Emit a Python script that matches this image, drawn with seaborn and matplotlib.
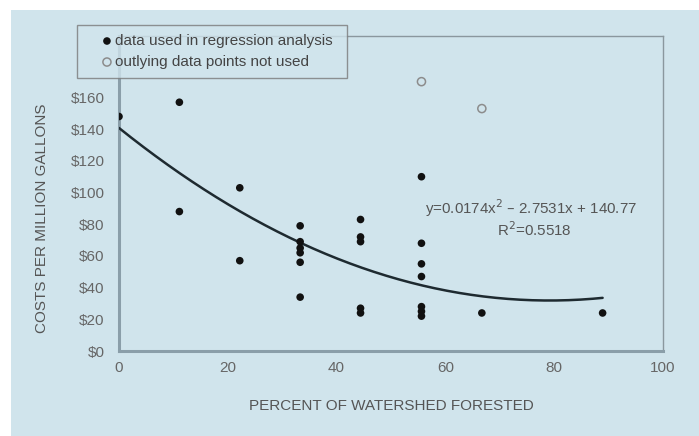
import numpy as np
import pandas as pd
import matplotlib
matplotlib.use("Agg")
import matplotlib.pyplot as plt
import seaborn as sns

# Percent of watershed forested vs treatment cost per million gallons
used_x = [0.0, 11.1, 11.1, 22.2, 22.2,
          33.3, 33.3, 33.3, 33.3, 33.3, 33.3,
          44.4, 44.4, 44.4, 44.4, 44.4,
          55.6, 55.6, 55.6, 55.6, 55.6, 55.6, 55.6,
          66.7, 88.9]
used_y = [148, 157, 88, 103, 57,
          79, 69, 65, 62, 56, 34,
          83, 72, 69, 27, 24,
          110, 68, 55, 47, 28, 25, 22,
          24, 24]
outlier_x = [55.6, 66.7]
outlier_y = [170, 153]

# Quadratic fit reported on the chart
coef_a, coef_b, coef_c = 0.0174, -2.7531, 140.77
r_squared = 0.5518
fit_range = (0.0, 88.9)

x_ticks = [0, 20, 40, 60, 80, 100]
y_ticks = [0, 20, 40, 60, 80, 100, 120, 140, 160]

BG = "#d0e4ec"
AXIS = "#8a9ea9"
TEXT = "#555555"

sns.set_theme(style="white")
plt.rcParams["font.family"] = ["Liberation Sans", "DejaVu Sans"]

fig = plt.figure(figsize=(6.99, 4.36), dpi=100, facecolor="white")
W, H = 699, 436
# light blue panel with thin white margin on top and left
panel = plt.Rectangle((11 / W, 0), 1 - 11 / W, 1 - 10 / H,
                      transform=fig.transFigure, facecolor=BG,
                      edgecolor="none", zorder=-10)
fig.patches.append(panel)

ax = fig.add_axes([119 / W, 1 - 351 / H, (663 - 119) / W, (351 - 35.7) / H])
ax.set_facecolor(BG)

used = pd.DataFrame({"forested": used_x, "cost": used_y})
outl = pd.DataFrame({"forested": outlier_x, "cost": outlier_y})

fx = np.linspace(fit_range[0], fit_range[1], 200)
fit = pd.DataFrame({"forested": fx, "cost": coef_a * fx ** 2 + coef_b * fx + coef_c})
sns.lineplot(data=fit, x="forested", y="cost", ax=ax, color="#1e2a30",
             linewidth=1.8, zorder=3)

sns.scatterplot(data=used, x="forested", y="cost", ax=ax, color="#111111",
                s=30, edgecolor="none", zorder=4,
                label="data used in regression analysis")
sns.scatterplot(data=outl, x="forested", y="cost", ax=ax, facecolor="none",
                edgecolor="#8c8c8c", linewidth=1.1, s=34, zorder=4,
                label="outlying data points not used")

ax.set_xlim(0, 100)
ax.set_ylim(0, 199)
ax.set_xticks(x_ticks)
ax.set_xticklabels([str(v) for v in x_ticks])
ax.set_yticks(y_ticks)
ax.set_yticklabels([f"${v}" for v in y_ticks])

for side in ["left", "bottom"]:
    ax.spines[side].set_color(AXIS)
    ax.spines[side].set_linewidth(2.2)
for side in ["top", "right"]:
    ax.spines[side].set_color("#8a979e")
    ax.spines[side].set_linewidth(1.0)

ax.tick_params(axis="both", direction="inout", length=7, width=1.2,
               color=AXIS, labelcolor="#666666", labelsize=11)
ax.tick_params(axis="x", pad=4)
ax.tick_params(axis="y", pad=7)

ax.set_xlabel("PERCENT OF WATERSHED FORESTED", fontsize=11, color=TEXT,
              labelpad=17)
ax.set_ylabel("COSTS PER MILLION GALLONS", fontsize=11, color=TEXT)
ax.yaxis.set_label_coords(-0.1287, 0.42)

ax.text(75.7, 90.2, "y=0.0174x$^{2}$ \u2013 2.7531x + 140.77",
        ha="center", va="center", fontsize=10.9, color="#555555")
ax.text(76.3, 76.3, f"R$^{{2}}$={r_squared}", ha="center", va="center",
        fontsize=10.9, color="#555555")

# legend box straddling the top edge of the axes
x0, y0 = 76.7 / W, 1 - 25 / H
leg = ax.legend(loc="upper left", bbox_to_anchor=(x0, y0 - 0.2, (347 - 76.7) / W, 0.2),
                bbox_transform=fig.transFigure, mode="expand",
                frameon=True, fancybox=False, fontsize=11, handletextpad=-0.89,
                handlelength=2.78, borderpad=0.59, labelspacing=0.46,
                markerscale=1.0, borderaxespad=0)
leg.get_frame().set_facecolor(BG)
leg.get_frame().set_edgecolor("#7a7a7a")
leg.get_frame().set_linewidth(1.0)
for t in leg.get_texts():
    t.set_color("#444444")
leg.set_zorder(6)

fig.savefig("out.png", dpi=100, facecolor="white")
